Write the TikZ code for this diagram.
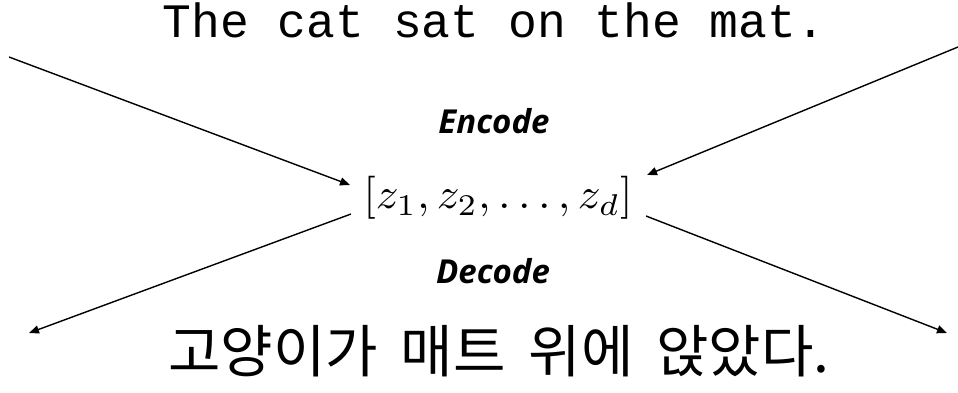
\documentclass[tikz,border=0pt]{standalone}
\usepackage{fontspec}
\setmainfont{Liberation Serif}
\newfontfamily\monofnt{Liberation Mono}
\newfontfamily\labfnt{Open Sans}
\newfontfamily\korfnt{Noto Sans CJK KR}
\usetikzlibrary{arrows.meta}
\tikzset{
  conn/.style={line width=1.4pt, -{Triangle[length=10pt,width=8pt]}},
  lab/.style={font=\labfnt\bfseries\itshape\fontsize{33}{38}\selectfont, inner sep=0pt, anchor=base},
}
\begin{document}
\begin{tikzpicture}[x=1pt,y=1pt]
\useasboundingbox (0,0) rectangle (958,-393);
\node[inner sep=0pt, anchor=base, font=\monofnt\fontsize{48}{52}\selectfont] (src) at (494,-38) {The cat sat on the mat.};
\node[lab] (enc) at (494,-133) {Encode};
\node[lab] (dec) at (493,-283) {Decode};
\node[inner sep=0pt, font=\normalsize] (vec) at (498,-198) {\scalebox{4.5}[4.3]{$[z_1, z_2, \ldots, z_d]$}};
\node[inner sep=0pt, anchor=base, font=\korfnt\fontsize{57}{62}\selectfont] (tgt) at (499,-372) {고양이가\hspace{0.4em}매트\hspace{0.4em}위에\hspace{0.4em}앉았다.};
\coordinate (tl) at (9,-57);
\coordinate (tr) at (958,-47);
\coordinate (tlend) at (350,-185);
\coordinate (trend) at (647,-175);
\coordinate (blstart) at (351,-214);
\coordinate (brstart) at (646,-216);
\coordinate (bl) at (29,-333);
\coordinate (br) at (947,-333);
\draw[conn] (tl) -- (tlend);
\draw[conn] (tr) -- (trend);
\draw[conn] (blstart) -- (bl);
\draw[conn] (brstart) -- (br);
\end{tikzpicture}
\end{document}
